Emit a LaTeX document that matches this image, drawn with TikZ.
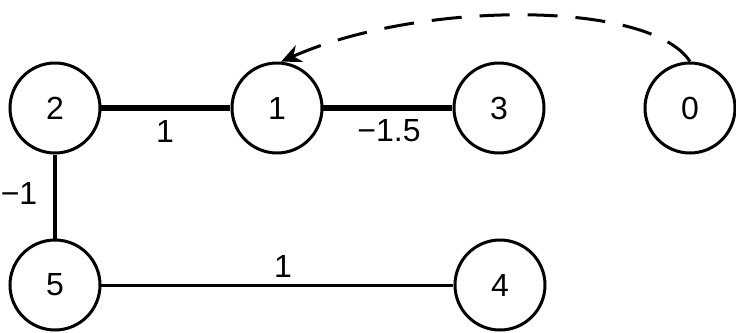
\documentclass[tikz,border=0pt]{standalone}
\usepackage{fontspec}
\setmainfont{Liberation Sans}
\usetikzlibrary{arrows.meta}
\begin{document}
\begin{tikzpicture}[x=0.5pt,y=-0.5pt,
  vtx/.style={circle, draw, line width=1.5pt, minimum size=45pt, inner sep=0pt, font=\fontsize{16}{16}\selectfont},
  lbl/.style={inner sep=0pt, font=\fontsize{16}{16}\selectfont},
  heavy/.style={line width=3pt},
  medium/.style={line width=1.9pt},
  light/.style={line width=1.5pt}]
\useasboundingbox (0,0) rectangle (736,333);
\node[vtx] (n2) at (55,108) {2};
\node[vtx] (n1) at (277,108) {1};
\node[vtx] (n3) at (499,108) {3};
\node[vtx] (n0) at (690,108) {0};
\node[vtx] (n5) at (55,285) {5};
\node[vtx] (n4) at (500,285) {4};
\draw[heavy] (n2) -- (n1);
\draw[heavy] (n1) -- (n3);
\draw[medium] (n2) -- (n5);
\draw[light] (n5) -- (n4);
\node[lbl] (l21) at (165,131) {1};
\node[lbl] (l13) at (389,131) {−1.5};
\node[lbl] (l25) at (19,193) {−1};
\node[lbl] (l54) at (283,266) {1};
\draw[line width=1.5pt, dash pattern=on 15pt off 9pt, -{Stealth[length=10pt,width=9pt]}]
  (n0.north) .. controls (650,0) and (420,0) .. (n1.85);
\end{tikzpicture}
\end{document}
